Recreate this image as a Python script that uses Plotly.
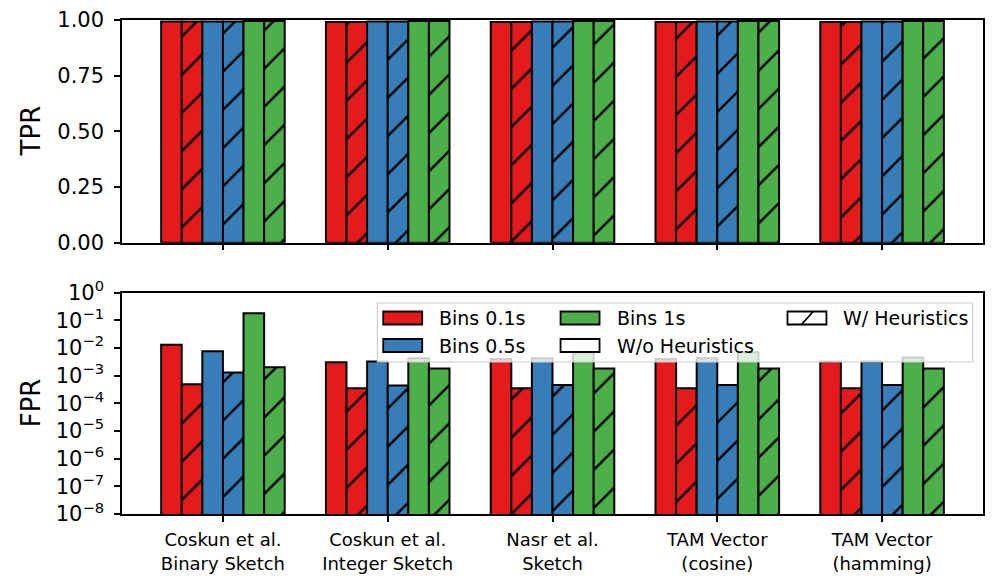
import plotly.graph_objects as go

# ---------------- data ----------------
categories = ["Coskun et al.<br>Binary Sketch", "Coskun et al.<br>Integer Sketch",
              "Nasr et al.<br>Sketch", "TAM Vector<br>(cosine)", "TAM Vector<br>(hamming)"]

tpr_01 = [0.993, 0.991, 0.991, 0.991, 0.991]
tpr_01_h = [0.993, 0.991, 0.991, 0.991, 0.991]
tpr_05 = [0.993, 0.993, 0.993, 0.993, 0.993]
tpr_05_h = [0.993, 0.993, 0.993, 0.993, 0.993]
tpr_1 = [0.995, 0.995, 0.995, 0.995, 0.995]
tpr_1_h = [0.995, 0.995, 0.995, 0.995, 0.995]

fpr_01 = [0.0129, 3.0e-3, 4.0e-3, 4.0e-3, 3.2e-3]
fpr_01_h = [4.9e-4, 3.5e-4, 3.5e-4, 3.5e-4, 3.5e-4]
fpr_05 = [7.6e-3, 3.2e-3, 4.2e-3, 4.2e-3, 3.2e-3]
fpr_05_h = [1.3e-3, 4.4e-4, 4.6e-4, 4.6e-4, 4.6e-4]
fpr_1 = [0.177, 4.2e-3, 6.9e-3, 6.9e-3, 4.5e-3]
fpr_1_h = [2.0e-3, 1.8e-3, 1.8e-3, 1.8e-3, 1.8e-3]

bin_labels = ["Bins 0.1s", "Bins 0.5s", "Bins 1s"]
heur_labels = ["W/o Heuristics", "W/ Heuristics"]
colors = ["#e41a1c", "#377eb8", "#4daf4a"]

tpr_ticks = [0, 0.25, 0.5, 0.75, 1.0]
fpr_tick_exp = [-8, -7, -6, -5, -4, -3, -2, -1, 0]

# ---------------- figure geometry ----------------
# the page shows the figure offset by the default 8px body margin
OFF = 8
W, H = 996 - OFF, 583 - OFF
L, T = 122 - OFF, 20 - OFF
R = W - (983.3 - OFF)
B = H - (514 - OFF)
PW = W - L - R
PH = H - T - B


def px_x(x):
    return (x - OFF - L) / PW


def px_y(y):
    return (H - B - (y - OFF)) / PH


top_dom = [px_y(242.7), 1.0]
bot_dom = [0.0, px_y(292.5)]

FONT = "DejaVu Sans"
EDGE = dict(color="black", width=2)

fig = go.Figure()

tpr_series = [tpr_01, tpr_01_h, tpr_05, tpr_05_h, tpr_1, tpr_1_h]
fpr_series = [fpr_01, fpr_01_h, fpr_05, fpr_05_h, fpr_1, fpr_1_h]

for panel, series, xa, ya in [("TPR", tpr_series, "x", "y"), ("FPR", fpr_series, "x2", "y2")]:
    for i, vals in enumerate(series):
        c = colors[i // 2]
        hatched = (i % 2 == 1)
        marker = dict(color=c, line=EDGE)
        if hatched:
            marker["pattern"] = dict(shape="/", fgcolor="black", bgcolor=c,
                                     fillmode="replace", size=27, solidity=0.09)
        name = bin_labels[i // 2] + (" " + heur_labels[1] if hatched else " " + heur_labels[0])
        fig.add_trace(go.Bar(x=categories, y=vals, marker=marker, name=name,
                             xaxis=xa, yaxis=ya, showlegend=False))

axis_common = dict(showline=True, linecolor="black", linewidth=1.5, mirror=True,
                   ticks="outside", ticklen=6, tickwidth=1.5, tickcolor="black",
                   showgrid=False, zeroline=False, automargin=False)

fig.update_layout(
    width=W, height=H,
    margin=dict(l=L, r=R, t=T, b=B, autoexpand=False),
    plot_bgcolor="white", paper_bgcolor="white",
    barmode="group", bargap=0.25, bargroupgap=0,
    font=dict(family=FONT, color="black"),
    xaxis=dict(domain=[0, 1], anchor="y", type="category", categoryorder="array",
               categoryarray=categories, range=[-0.6125, 4.6125],
               showticklabels=False, **axis_common),
    yaxis=dict(domain=top_dom, anchor="x", range=[0, 1.0], tickvals=tpr_ticks,
               tickformat=".2f", tickfont=dict(size=21, family=FONT),
               ticklabelstandoff=6, **axis_common),
    xaxis2=dict(domain=[0, 1], anchor="y2", type="category", categoryorder="array",
                categoryarray=categories, range=[-0.6125, 4.6125],
                tickfont=dict(size=18, family=FONT), ticklabelstandoff=3, **axis_common),
    yaxis2=dict(domain=bot_dom, anchor="x2", type="log", range=[-8, 0],
                tickvals=[10.0 ** e for e in fpr_tick_exp],
                ticktext=["10<sup>%s</sup>" % (str(e).replace("-", "\u2212")) for e in fpr_tick_exp],
                tickfont=dict(size=21, family=FONT), ticklabelstandoff=6, **axis_common),
)

# axis titles
for txt, yc in [("TPR", (20 + 242.7) / 2), ("FPR", (292.5 + 514) / 2)]:
    fig.add_annotation(text=txt, xref="paper", yref="paper", x=px_x(31), y=px_y(yc),
                       showarrow=False, textangle=-90, font=dict(size=26, family=FONT),
                       xanchor="center", yanchor="middle")

# ---------------- legend (drawn in the style of the reference) ----------------
fig.add_shape(type="rect", xref="paper", yref="paper", layer="above",
              x0=px_x(377.5), x1=px_x(973), y0=px_y(362), y1=px_y(303),
              fillcolor="rgba(255,255,255,0.8)", line=dict(color="#cccccc", width=1.2))

legend_items = [
    (bin_labels[0], colors[0], False, 383.3, 318),
    (bin_labels[1], colors[1], False, 383.3, 345.5),
    (bin_labels[2], colors[2], False, 560.7, 318),
    (heur_labels[0], "white", False, 560.7, 345.5),
    (heur_labels[1], "white", True, 787.7, 318),
]
SW, SH = 39, 13
for label, col, hatch, xl, yc in legend_items:
    fig.add_shape(type="rect", xref="paper", yref="paper", layer="above",
                  x0=px_x(xl), x1=px_x(xl + SW), y0=px_y(yc + SH / 2), y1=px_y(yc - SH / 2),
                  fillcolor=col, line=dict(color="black", width=1.8))
    if hatch:
        fig.add_shape(type="line", xref="paper", yref="paper", layer="above",
                      x0=px_x(xl + SW * 0.36), y0=px_y(yc + SH / 2),
                      x1=px_x(xl + SW * 0.66), y1=px_y(yc - SH / 2),
                      line=dict(color="black", width=1.8))
    fig.add_annotation(text=label, xref="paper", yref="paper", x=px_x(xl + SW + 15),
                       y=px_y(yc), xanchor="left", yanchor="middle", showarrow=False,
                       font=dict(size=19, family=FONT))

fig.write_html("out.html")
